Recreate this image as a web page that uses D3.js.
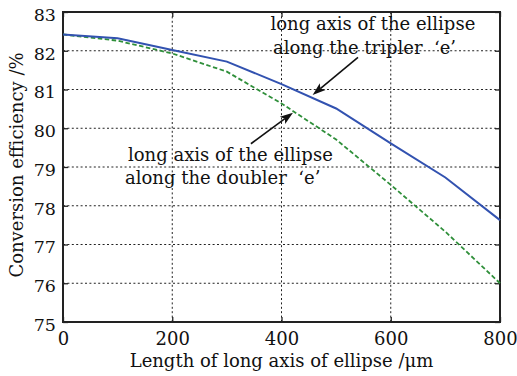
<!DOCTYPE html>
<html>
<head>
<meta charset="utf-8">
<script src="https://cdn.jsdelivr.net/npm/d3@7"></script>
<style>
  html, body { margin: 0; padding: 0; background: #ffffff; }
  svg { display: block; }
  text { font-family: "DejaVu Serif", "Liberation Serif", serif; fill: #111; }
</style>
</head>
<body>
<svg id="chart" width="517" height="376"></svg>
<script>
// Length of the ellipse's long axis (µm)
const lengths = [0, 100, 200, 300, 400, 500, 600, 700, 800];
// Conversion efficiency (%) with the long axis along the tripler 'e'
const triplerEff = [82.42, 82.32, 82.02, 81.72, 81.14, 80.51, 79.61, 78.73, 77.63];
// Conversion efficiency (%) with the long axis along the doubler 'e'
const doublerEff = [82.42, 82.26, 81.93, 81.46, 80.64, 79.71, 78.54, 77.33, 76.0];

const xTicks = [0, 200, 400, 600, 800];
const yTicks = [75, 76, 77, 78, 79, 80, 81, 82, 83];

const xTitle = "Length of long axis of ellipse /\u03bcm";
const yTitle = "Conversion efficiency /%";
const triplerNote = ["long axis of the ellipse", "along the tripler\u00a0\u00a0\u2018e\u2019"];
const doublerNote = ["long axis of the ellipse", "along the doubler\u00a0\u00a0\u2018e\u2019"];

const svg = d3.select("#chart");
const plotL = 63, plotR = 500, plotT = 12, plotB = 322;

const x = d3.scaleLinear().domain([0, 800]).range([plotL, plotR]);
const y = d3.scaleLinear().domain([75, 83]).range([plotB, plotT]);

// dotted grid
const grid = svg.append("g").attr("stroke", "#222").attr("stroke-width", 1)
  .attr("stroke-dasharray", "2,2.4").attr("fill", "none");
xTicks.slice(1, -1).forEach(t => {
  grid.append("line").attr("x1", x(t)).attr("x2", x(t)).attr("y1", plotT).attr("y2", plotB);
});
yTicks.slice(1, -1).forEach(t => {
  grid.append("line").attr("x1", plotL).attr("x2", plotR).attr("y1", y(t)).attr("y2", y(t));
});

// axes with inward ticks on all four sides
const tickLen = 5;
const axB = svg.append("g").attr("transform", `translate(0,${plotB})`)
  .call(d3.axisBottom(x).tickValues(xTicks).tickSizeInner(-tickLen).tickSizeOuter(0).tickPadding(10));
const axT = svg.append("g").attr("transform", `translate(0,${plotT})`)
  .call(d3.axisTop(x).tickValues(xTicks).tickSizeInner(-tickLen).tickSizeOuter(0).tickFormat(""));
const axL = svg.append("g").attr("transform", `translate(${plotL},0)`)
  .call(d3.axisLeft(y).tickValues(yTicks).tickSizeInner(-tickLen).tickSizeOuter(0).tickPadding(7));
const axR = svg.append("g").attr("transform", `translate(${plotR},0)`)
  .call(d3.axisRight(y).tickValues(yTicks).tickSizeInner(-tickLen).tickSizeOuter(0).tickFormat(""));

[axB, axT, axL, axR].forEach(g => {
  g.select(".domain").remove();
  g.selectAll(".tick line").attr("stroke", "#222").attr("stroke-width", 1.3);
});
axB.selectAll(".tick text").attr("font-size", 18).attr("font-family", "DejaVu Serif").attr("fill", "#111");
axL.selectAll(".tick text").attr("font-size", 17.5).attr("font-family", "DejaVu Serif").attr("fill", "#111")
  .attr("dy", "0.48em");

// frame
svg.append("rect").attr("x", plotL).attr("y", plotT)
  .attr("width", plotR - plotL).attr("height", plotB - plotT)
  .attr("fill", "none").attr("stroke", "#222").attr("stroke-width", 2);

// curves
const line = d3.line().x((d, i) => x(lengths[i])).y(d => y(d));
svg.append("path").datum(doublerEff).attr("d", line)
  .attr("fill", "none").attr("stroke", "#2f8f3a").attr("stroke-width", 1.8)
  .attr("stroke-dasharray", "4.5,2.5");
svg.append("path").datum(triplerEff).attr("d", line)
  .attr("fill", "none").attr("stroke", "#3252b0").attr("stroke-width", 2);

// axis titles
svg.append("text").attr("x", (plotL + plotR) / 2).attr("y", 367)
  .attr("text-anchor", "middle").attr("font-size", 18).text(xTitle);
svg.append("text").attr("transform", "translate(23,165) rotate(-90)")
  .attr("text-anchor", "middle").attr("font-size", 18).text(yTitle);

// annotations
function note(lines, x0s, ys) {
  const t = svg.append("text").attr("font-size", 18);
  lines.forEach((s, i) => {
    t.append("tspan").attr("x", x0s[i]).attr("y", ys[i]).text(s);
  });
}
note(triplerNote, [270.5, 273], [29.5, 53.5]);
note(doublerNote, [128, 125], [161, 184]);

// arrows pointing at the curves (data coordinates)
function arrow(from, to) {
  const x1 = x(from[0]), y1 = y(from[1]), x2 = x(to[0]), y2 = y(to[1]);
  const a = Math.atan2(y2 - y1, x2 - x1);
  const L = 13, W = 4.5, back = 3;
  const bx = x2 - L * Math.cos(a), by = y2 - L * Math.sin(a);
  const nx = -Math.sin(a), ny = Math.cos(a);
  const mx = x2 - (L - back) * Math.cos(a), my = y2 - (L - back) * Math.sin(a);
  svg.append("line").attr("x1", x1).attr("y1", y1).attr("x2", mx).attr("y2", my)
    .attr("stroke", "#111").attr("stroke-width", 1.6);
  svg.append("path")
    .attr("d", `M${x2},${y2} L${bx + nx * W},${by + ny * W} L${mx},${my} L${bx - nx * W},${by - ny * W} Z`)
    .attr("fill", "#111");
}
arrow([540, 81.83], [457, 80.86]);
arrow([344, 79.6], [421, 80.4]);
</script>
</body>
</html>
